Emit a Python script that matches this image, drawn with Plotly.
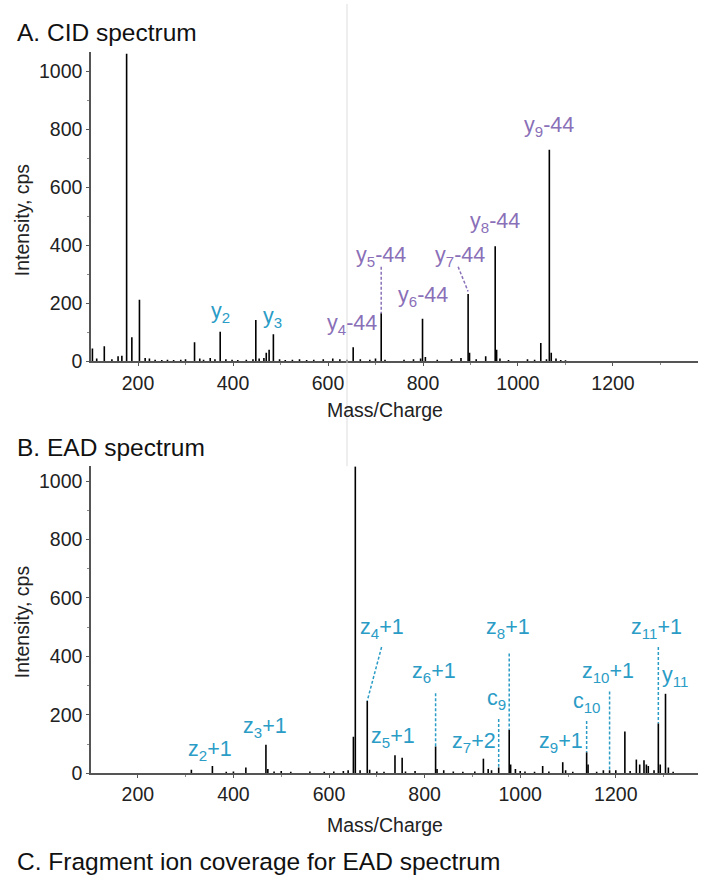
import plotly.graph_objects as go

# ---------------- DATA ----------------
# Panel A: CID spectrum (m/z, intensity)
cid_mz = [104, 113, 129, 145, 158, 166, 176, 187, 203, 215, 224, 236, 250, 262, 275, 290, 300,
          319, 330, 338, 352, 362, 373, 385, 398, 410, 428, 442, 448, 455, 465, 470, 476, 485,
          498, 510, 525, 540, 555, 570, 590, 610, 625, 640, 653, 668, 688, 700, 712, 720, 760,
          780, 795, 799, 805, 830, 860, 880, 895, 898, 912, 932, 952, 955, 962, 980, 1020,
          1035, 1048, 1060, 1066, 1070, 1080, 1090, 1100]
cid_int = [45, 10, 52, 8, 18, 20, 1060, 83, 213, 12, 10, 6, 5, 6, 5, 6, 8,
           66, 10, 6, 12, 8, 102, 8, 6, 5, 6, 8, 143, 10, 12, 30, 40, 94,
           8, 5, 6, 8, 5, 6, 8, 10, 8, 6, 49, 8, 6, 10, 166, 6, 6,
           8, 10, 147, 15, 6, 8, 12, 232, 30, 8, 18, 397, 40, 10, 5, 8,
           6, 64, 8, 729, 30, 10, 5, 4]

# Panel B: EAD spectrum (m/z, intensity)
ead_mz = [312, 356, 385, 400, 426, 468, 472, 485, 500, 520, 560, 590, 610, 630, 640, 651, 655,
          665, 680, 685, 700, 715, 738, 753, 760, 780, 823, 826, 840, 860, 880, 905, 923, 933,
          940, 955, 977, 980, 990, 1000, 1010, 1030, 1047, 1060, 1089, 1095, 1110, 1139, 1142,
          1160, 1174, 1187, 1200, 1219, 1230, 1243, 1250, 1259, 1264, 1268, 1280, 1289, 1293,
          1304, 1310, 1320]
ead_int = [12, 25, 5, 6, 20, 98, 15, 6, 8, 5, 6, 5, 6, 8, 10, 125, 1050,
           10, 248, 12, 6, 5, 62, 53, 6, 8, 92, 15, 10, 6, 5, 6, 50, 15,
           10, 20, 149, 30, 15, 8, 6, 5, 25, 6, 38, 10, 5, 72, 30,
           5, 10, 10, 10, 143, 8, 47, 30, 45, 30, 25, 10, 171, 30,
           272, 20, 5]

# Annotations, panel A
cid_labels = ["y<sub>2</sub>", "y<sub>3</sub>", "y<sub>4</sub>-44", "y<sub>5</sub>-44",
              "y<sub>6</sub>-44", "y<sub>7</sub>-44", "y<sub>8</sub>-44", "y<sub>9</sub>-44"]
cid_label_mz = [373, 484, 650, 712, 800, 878, 952, 1065]
cid_label_int = [167, 150, 126, 360, 224, 360, 480, 809]
cid_label_kind = ["y", "y", "loss", "loss", "loss", "loss", "loss", "loss"]
# leader lines (start near label -> end at peak)
cid_lead_x0 = [712, 874]
cid_lead_y0 = [326, 326]
cid_lead_x1 = [712, 895]
cid_lead_y1 = [166, 241]

# Annotations, panel B
ead_labels = ["z<sub>2</sub>+1", "z<sub>3</sub>+1", "z<sub>4</sub>+1", "z<sub>5</sub>+1",
              "z<sub>6</sub>+1", "z<sub>7</sub>+2", "c<sub>9</sub>", "z<sub>8</sub>+1",
              "z<sub>9</sub>+1", "c<sub>10</sub>", "z<sub>10</sub>+1", "z<sub>11</sub>+1",
              "y<sub>11</sub>"]
ead_label_mz = [351, 466, 710, 734, 819, 903, 950, 974, 1086, 1139, 1183, 1285, 1323]
ead_label_int = [78, 156, 494, 123, 345, 106, 253, 494, 106, 241, 345, 494, 331]
ead_lead_x0 = [710, 823, 955, 977, 1139, 1187, 1289]
ead_lead_y0 = [432, 274, 186, 410, 179, 280, 432]
ead_lead_x1 = [680, 823, 955, 977, 1139, 1187, 1289]
ead_lead_y1 = [248, 92, 22, 149, 72, 12, 171]

# Panel titles
panel_titles = ["A. CID spectrum", "B. EAD spectrum", "C. Fragment ion coverage for EAD spectrum"]
x_title = "Mass/Charge"
y_title = "Intensity, cps"

# ---------------- STYLE ----------------
W, H = 707, 887
FONT = "Liberation Sans, Arial, Helvetica, sans-serif"
TEAL = "#2a9cc6"
PURPLE = "#8a70b8"
AXIS = "#555555"
TXT = "#222222"


def px(x):
    return x / W


def py(y):
    return 1 - y / H


def sticks(mz, inten):
    xs, ys = [], []
    for m, h in zip(mz, inten):
        xs += [m, m, None]
        ys += [0, h, None]
    return xs, ys


fig = go.Figure()
xa, ya = sticks(cid_mz, cid_int)
fig.add_trace(go.Scatter(x=xa, y=ya, mode="lines", line=dict(color="black", width=1.6),
                         xaxis="x", yaxis="y", showlegend=False, hoverinfo="skip"))
xb, yb = sticks(ead_mz, ead_int)
fig.add_trace(go.Scatter(x=xb, y=yb, mode="lines", line=dict(color="black", width=1.6),
                         xaxis="x2", yaxis="y2", showlegend=False, hoverinfo="skip"))

# leader lines
for x0, y0, x1, y1 in zip(cid_lead_x0, cid_lead_y0, cid_lead_x1, cid_lead_y1):
    fig.add_trace(go.Scatter(x=[x0, x1], y=[y0, y1], mode="lines",
                             line=dict(color=PURPLE, width=1.5, dash="3px,2px"),
                             xaxis="x", yaxis="y", showlegend=False, hoverinfo="skip"))
for x0, y0, x1, y1 in zip(ead_lead_x0, ead_lead_y0, ead_lead_x1, ead_lead_y1):
    fig.add_trace(go.Scatter(x=[x0, x1], y=[y0, y1], mode="lines",
                             line=dict(color=TEAL, width=1.5, dash="3px,2px"),
                             xaxis="x2", yaxis="y2", showlegend=False, hoverinfo="skip"))

annotations = []
for t, m, h, k in zip(cid_labels, cid_label_mz, cid_label_int, cid_label_kind):
    annotations.append(dict(text=t, x=m, y=h, xref="x", yref="y", showarrow=False,
                            xanchor="center", yanchor="middle",
                            font=dict(family=FONT, size=21.5, color=TEAL if k == "y" else PURPLE)))
for t, m, h in zip(ead_labels, ead_label_mz, ead_label_int):
    annotations.append(dict(text=t, x=m, y=h, xref="x2", yref="y2", showarrow=False,
                            xanchor="center", yanchor="middle",
                            font=dict(family=FONT, size=21.5, color=TEAL)))

# panel titles
for t, yy in zip(panel_titles, [33, 453, 872]):
    annotations.append(dict(text=t, x=px(15), y=py(yy), xref="paper", yref="paper",
                            showarrow=False, xanchor="left", yanchor="middle",
                            font=dict(family=FONT, size=24.5, color="#111111")))
# axis titles
for yy in [415, 835]:
    annotations.append(dict(text=x_title, x=px(385), y=py(yy), xref="paper", yref="paper",
                            showarrow=False, xanchor="center", yanchor="middle",
                            font=dict(family=FONT, size=19.5, color=TXT)))
for yy in [223, 630]:
    annotations.append(dict(text=y_title, x=px(22), y=py(yy), xref="paper", yref="paper",
                            showarrow=False, xanchor="center", yanchor="middle", textangle=-90,
                            font=dict(family=FONT, size=19.5, color=TXT)))

axis_common = dict(showgrid=False, zeroline=False, showline=True, linecolor=AXIS, linewidth=1.5,
                   ticks="outside", tickcolor=AXIS, ticklen=3, tickwidth=1,
                   tickfont=dict(family=FONT, size=19.5, color=TXT),
                   minor=dict(ticks="outside", ticklen=2, tickcolor="#888888", dtick=100))

fig.update_layout(
    width=W, height=H, margin=dict(l=0, r=0, t=0, b=0),
    paper_bgcolor="white", plot_bgcolor="white",
    xaxis=dict(domain=[px(91), px(698)], range=[101, 1379], anchor="y",
               tickvals=[200, 400, 600, 800, 1000, 1200], **axis_common),
    yaxis=dict(domain=[py(366), py(53)], range=[0, 1065], anchor="x",
               tickvals=[0, 200, 400, 600, 800, 1000], **axis_common),
    xaxis2=dict(domain=[px(91), px(698)], range=[102, 1372], anchor="y2",
                tickvals=[200, 400, 600, 800, 1000, 1200], **axis_common),
    yaxis2=dict(domain=[py(783), py(472)], range=[0, 1051], anchor="x2",
                tickvals=[0, 200, 400, 600, 800, 1000], **axis_common),
    annotations=annotations,
    shapes=[dict(type="line", xref="paper", yref="paper", x0=px(347), x1=px(347),
                 y0=py(472), y1=py(4), line=dict(color="#dddddd", width=1))],
)

fig.write_html("out.html", config={"displayModeBar": False},
               post_script="document.body.style.margin='0px';")
